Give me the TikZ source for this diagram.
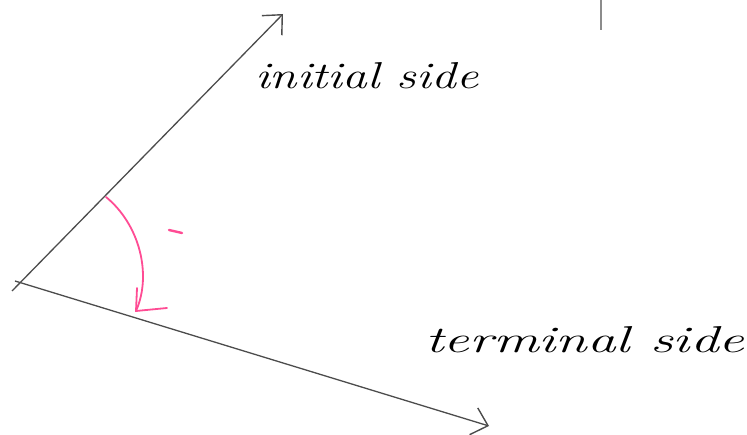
\documentclass[tikz,border=0pt]{standalone}
\usetikzlibrary{arrows.meta}
\begin{document}
\begin{tikzpicture}[x=1pt,y=-1pt,
  side/.style={draw=black!70,line width=1.3pt,-{Straight Barb[length=15pt,width=28pt,line width=1.4pt]}},
  redpen/.style={draw=red!60!magenta!70,line width=1.8pt,line cap=round},
  hand/.style={font=\itshape\fontsize{34}{36}\selectfont,inner sep=0pt,anchor=west}]
\useasboundingbox (0,0) rectangle (747,435);
\coordinate (vstart) at (12,291);
\coordinate (itip) at (283,14);
\coordinate (ttip) at (489,426);
\coordinate (tstart) at (15,281);
\draw[side] (vstart) -- (itip);
\draw[side] (tstart) -- (ttip);
\coordinate (gtop) at (601,0);
\coordinate (gbot) at (601,30);
\draw[black!45,line width=1.3pt] (gtop) -- (gbot);
\coordinate (a0) at (106,197);
\coordinate (a1) at (136,311);
\coordinate (b1) at (137,288);
\coordinate (b2) at (167,308);
\draw[redpen] (a0) .. controls (140,225) and (152,275) .. (a1);
\draw[redpen] (b1) -- (a1) -- (b2);
\coordinate (d0) at (169,230);
\coordinate (d1) at (182,233);
\draw[redpen,line width=2.4pt] (d0) -- (d1);
\node[hand] (init) at (255,76) {\scalebox{1.45}[1.1]{initial side}};
\node[hand] (term) at (425,340) {\scalebox{1.68}[1.1]{terminal side}};
\end{tikzpicture}
\end{document}
